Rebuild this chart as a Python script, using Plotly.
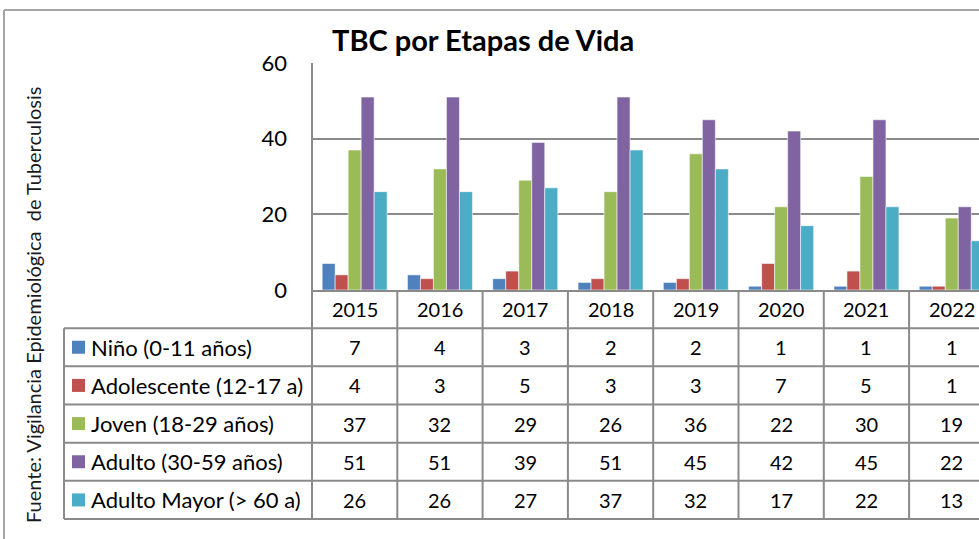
import plotly.graph_objects as go

# ---------------- data ----------------
years = ["2015", "2016", "2017", "2018", "2019", "2020", "2021", "2022"]
series_names = ["Niño (0-11 años)", "Adolescente (12-17 a)", "Joven (18-29 años)",
                "Adulto (30-59 años)", "Adulto Mayor (> 60 a)"]
nino = [7, 4, 3, 2, 2, 1, 1, 1]
adolescente = [4, 3, 5, 3, 3, 7, 5, 1]
joven = [37, 32, 29, 26, 36, 22, 30, 19]
adulto = [51, 51, 39, 51, 45, 42, 45, 22]
adulto_mayor = [26, 26, 27, 37, 32, 17, 22, 13]
series_values = [nino, adolescente, joven, adulto, adulto_mayor]
colors = ["#4F81BD", "#C0504D", "#9BBB59", "#8064A2", "#4BACC6"]
y_ticks = [0, 20, 40, 60]

title_text = "TBC por Etapas de Vida"
source_text = "Fuente: Vigilancia Epidemiológica  de Tuberculosis"

# ---------------- layout geometry (pixels) ----------------
W, H = 979, 539
PLOT_L, PLOT_T, ZERO_Y, TABLE_B = 312, 63, 290, 519
COL_W = 85.3
LEG_L = 64
FONT = "Lato"
GRID = "#8a8a8a"
BORDER = "#a6a6a6"

def px(x):
    return x / W

def py(y):
    return 1 - y / H

n_rows = len(series_names) + 1
row_h = (TABLE_B - ZERO_Y) / n_rows
x_range = [-0.5, -0.5 + (W - PLOT_L) / COL_W]

fig = go.Figure()
for name, vals, col in zip(series_names, series_values, colors):
    fig.add_trace(go.Bar(
        x=list(range(len(years))), y=vals, name=name,
        marker=dict(color=col, line=dict(color="rgba(255,255,255,0.55)", width=1)),
        showlegend=False, hoverinfo="x+y+name",
    ))

shapes = []
annotations = []

# outer chart border (top + left)
shapes.append(dict(type="line", xref="paper", yref="paper", x0=px(4), x1=1, y0=py(10), y1=py(10),
                   line=dict(color=BORDER, width=2)))
shapes.append(dict(type="line", xref="paper", yref="paper", x0=px(4), x1=px(4), y0=py(10), y1=0,
                   line=dict(color=BORDER, width=2)))

# plot-area left border extended through the table
shapes.append(dict(type="line", xref="paper", yref="paper", x0=px(PLOT_L), x1=px(PLOT_L),
                   y0=py(PLOT_T), y1=py(TABLE_B), line=dict(color=GRID, width=2)))
# legend column left border
shapes.append(dict(type="line", xref="paper", yref="paper", x0=px(LEG_L), x1=px(LEG_L),
                   y0=py(ZERO_Y + row_h), y1=py(TABLE_B), line=dict(color=GRID, width=2)))
# horizontal row separators
for i in range(1, n_rows + 1):
    yy = ZERO_Y + i * row_h
    shapes.append(dict(type="line", xref="paper", yref="paper", x0=px(LEG_L), x1=1,
                       y0=py(yy), y1=py(yy), line=dict(color=GRID, width=2)))
# vertical column separators
for k in range(len(years)):
    shapes.append(dict(type="line", xref="x", yref="paper", x0=k + 0.5, x1=k + 0.5,
                       y0=py(ZERO_Y), y1=py(TABLE_B), line=dict(color=GRID, width=2)))

# header years
for k, yr in enumerate(years):
    annotations.append(dict(x=k, y=py(ZERO_Y + 0.5 * row_h), xref="x", yref="paper",
                            text=yr, showarrow=False, xanchor="center", yanchor="middle",
                            font=dict(family=FONT, size=20, color="black")))
# values + legend keys
for r, (name, vals, col) in enumerate(zip(series_names, series_values, colors)):
    yc = ZERO_Y + (r + 1.5) * row_h
    for k, v in enumerate(vals):
        annotations.append(dict(x=k, y=py(yc), xref="x", yref="paper", text=str(v),
                                showarrow=False, xanchor="center", yanchor="middle",
                                font=dict(family=FONT, size=20, color="black")))
    shapes.append(dict(type="rect", xref="paper", yref="paper", x0=px(72), x1=px(85),
                       y0=py(yc - 6.5), y1=py(yc + 6.5), fillcolor=col, line=dict(width=0)))
    annotations.append(dict(x=px(89), y=py(yc), xref="paper", yref="paper", text=name,
                            showarrow=False, xanchor="left", yanchor="middle",
                            font=dict(family=FONT, size=22, color="black")))

# title
annotations.append(dict(x=px(483), y=py(39), xref="paper", yref="paper", text="<b>" + title_text + "</b>",
                        showarrow=False, xanchor="center", yanchor="middle",
                        font=dict(family=FONT, size=29, color="black")))
# rotated source text
annotations.append(dict(x=px(33), y=py(305), xref="paper", yref="paper", text=source_text,
                        showarrow=False, textangle=-90, xanchor="center", yanchor="middle",
                        font=dict(family=FONT, size=20, color="#1a1a1a")))

fig.update_layout(
    width=W, height=H, margin=dict(l=0, r=0, t=0, b=0, pad=0, autoexpand=False),
    paper_bgcolor="white", plot_bgcolor="white",
    barmode="group", bargap=0.238, bargroupgap=0,
    shapes=shapes, annotations=annotations,
    xaxis=dict(domain=[px(PLOT_L), 1], range=x_range, showticklabels=False, ticks="",
               automargin=False,
               showgrid=False, zeroline=False, showline=True, linecolor=GRID, linewidth=2),
    yaxis=dict(domain=[py(ZERO_Y), py(PLOT_T)], range=[0, 60], tickvals=y_ticks,
               automargin=False,
               showgrid=True, gridcolor=GRID, gridwidth=2, zeroline=False,
               showline=False, ticks="", ticklabelstandoff=24,
               tickfont=dict(family=FONT, size=22, color="black")),
)

fig.write_html("out.html", config={"displayModeBar": False},
               post_script="document.body.style.margin='0';document.body.style.overflow='hidden';")
